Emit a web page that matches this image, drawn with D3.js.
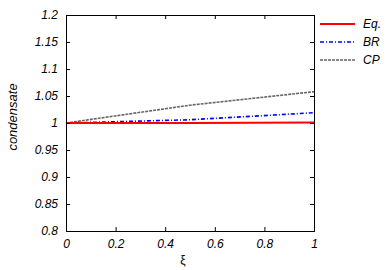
<!DOCTYPE html>
<html>
<head>
<meta charset="utf-8">
<script src="https://cdn.jsdelivr.net/npm/d3@7"></script>
<style>
  body { margin: 0; background: #fff; }
  text { font-family: "Liberation Sans", Arial, sans-serif; font-style: italic; }
</style>
</head>
<body>
<script>
// chart data
var xs = [0, 0.5, 1];
var eqVals = [1, 1, 1.001];
var brVals = [1, 1.006, 1.019];
var cpVals = [1, 1.033, 1.058];
var seriesNames = ['Eq.', 'BR', 'CP'];
var xTicks = [0, 0.2, 0.4, 0.6, 0.8, 1];
var yTicks = [0.8, 0.85, 0.9, 0.95, 1, 1.05, 1.1, 1.15, 1.2];

var w = 386, h = 270;
var plotL = 66, plotR = 314, plotT = 15, plotB = 231;

var svg = d3.select("body").append("svg")
    .attr("width", w)
    .attr("height", h);

var x = d3.scaleLinear().domain([0, 1]).range([plotL, plotR]);
var y = d3.scaleLinear().domain([0.8, 1.2]).range([plotB, plotT]);

// series styles
var styles = [
    {color: '#ff0000', width: 2, dash: null},
    {color: '#0000ff', width: 1.6, dash: '4,2,1,2'},
    {color: '#666666', width: 1.6, dash: '3,1'}
];
var allVals = [eqVals, brVals, cpVals];

var line = d3.line()
    .x(function(d) { return x(d[0]); })
    .y(function(d) { return y(d[1]); });

// draw lines (CP first so red on top)
for (var k = allVals.length - 1; k >= 0; k--) {
    var pts = xs.map(function(v, i) { return [v, allVals[k][i]]; });
    svg.append("path")
        .attr("d", line(pts))
        .attr("fill", "none")
        .attr("stroke", styles[k].color)
        .attr("stroke-width", styles[k].width)
        .attr("stroke-dasharray", styles[k].dash);
}

// axes with inward ticks on all four sides
var tl = 4;
svg.append("g").attr("transform", "translate(0," + plotB + ")")
    .call(d3.axisBottom(x).tickValues(xTicks).tickSize(-tl).tickPadding(8)
        .tickFormat(function(d) { return d3.format("~g")(d); }));
svg.append("g").attr("transform", "translate(0," + plotT + ")")
    .call(d3.axisTop(x).tickValues(xTicks).tickSize(-tl).tickFormat(""));
svg.append("g").attr("transform", "translate(" + plotL + ",0)")
    .call(d3.axisLeft(y).tickValues(yTicks).tickSize(-tl).tickPadding(8)
        .tickFormat(function(d) { return d3.format("~g")(d); }));
svg.append("g").attr("transform", "translate(" + plotR + ",0)")
    .call(d3.axisRight(y).tickValues(yTicks).tickSize(-tl).tickFormat(""));

svg.selectAll(".domain").attr("stroke", "#000").attr("stroke-width", 1);
svg.selectAll(".tick line").attr("stroke", "#000");
svg.selectAll(".tick text")
    .attr("font-size", "12px")
    .attr("font-family", "Liberation Sans, Arial, sans-serif")
    .attr("font-style", "italic")
    .attr("fill", "#000");

// axis labels
svg.append("text")
    .text("condensate")
    .attr("transform", "translate(17,117) rotate(-90)")
    .attr("text-anchor", "middle")
    .attr("font-size", "13px");
svg.append("text")
    .text("ξ")
    .attr("x", 183)
    .attr("y", 264)
    .attr("text-anchor", "middle")
    .attr("font-size", "12px")
    .style("font-style", "normal");

// legend
var leg = svg.append("g");
seriesNames.forEach(function(name, i) {
    var ly = 24 + i * 18;
    leg.append("line")
        .attr("x1", 320).attr("x2", 355)
        .attr("y1", ly).attr("y2", ly)
        .attr("stroke", styles[i].color)
        .attr("stroke-width", styles[i].width)
        .attr("stroke-dasharray", styles[i].dash);
    leg.append("text")
        .text(name)
        .attr("x", 363)
        .attr("y", ly + 4)
        .attr("font-size", "12px");
});
</script>
</body>
</html>
